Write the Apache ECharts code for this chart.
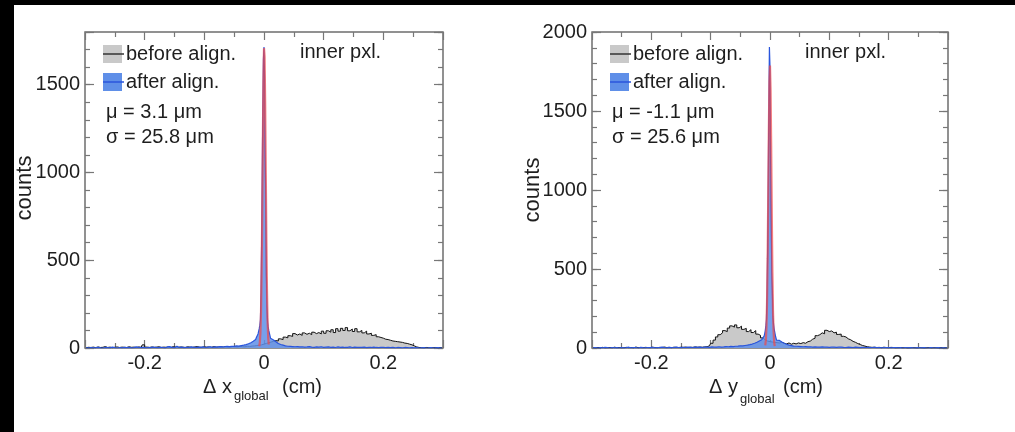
<!DOCTYPE html>
<html><head><meta charset="utf-8">
<script src="https://cdn.jsdelivr.net/npm/echarts@6/dist/echarts.min.js"></script>
<style>html,body{margin:0;padding:0;background:#fff}#c{width:1015px;height:432px}</style>
</head><body><div id="c"></div>
<script>
// ---------- data ----------
const BIN = 0.004;          // coarse bin width (cm)
const FINE = 0.001;         // fine bin width in the core (cm)
const X_MIN = -0.3, X_MAX = 0.3;
const CORE_MIN = -0.012, CORE_MAX = 0.012;
const xTickLabels = [-0.2, 0, 0.2];
const yTickLabels = [0, 500, 1000, 1500, 2000];
const yMax1 = 1800, yMax2 = 2000;

// panel 1 : delta x_global, before alignment (150 bins of 0.004 from -0.3)
const beforeX = [
  2,4,3,5,2,6,3,4,8,3,5,2,
  4,6,3,5,4,3,7,4,5,3,6,4,
  18,5,3,6,4,5,7,3,5,4,6,3,
  8,5,4,6,5,3,7,5,4,6,8,5,
  4,7,5,6,4,8,5,6,7,5,9,6,
  5,8,7,6,9,8,7,10,9,11,12,14,
  16,
  18,22,26,30,34,38,42,40,52,48,
  62,58,70,66,82,74,80,72,86,78,
  84,76,90,82,88,80,96,84,98,90,
  104,88,110,96,112,100,116,98,108,94,
  110,92,100,86,96,80,84,72,76,64,
  60,56,50,48,44,40,38,36,34,32,
  28,26,22,18,12,6,3,
  2,1,3,2,1,2,3,1,2,1
];
// panel 1 : after alignment
const afterXLeft = [   // 72 bins of 0.004 from -0.3 to -0.012
  2,0,3,1,2,4,1,0,3,2,1,5,
  2,0,3,1,4,2,3,1,2,6,3,2,
  4,1,3,2,5,3,2,4,3,1,6,8,
  3,2,10,3,5,2,4,3,6,4,3,5,
  4,6,3,5,7,4,6,5,8,6,7,9,
  8,10,9,12,11,14,16,19,24,30,38,48
];
const afterXCore = [   // 24 bins of 0.001 from -0.012 to 0.012
  60,70,80,95,110,130,160,320,600,980,1350,1640,
  1715,1540,1100,850,420,240,150,120,100,85,70,55
];
const afterXRight = [  // 72 bins of 0.004 from 0.012 to 0.3
  46,36,26,20,16,12,10,9,8,7,8,6,
  7,5,6,8,5,4,6,5,7,4,5,6,
  4,5,3,6,4,5,3,4,6,3,5,4,
  3,4,5,2,4,3,5,3,2,4,3,2,
  3,2,4,1,3,2,1,3,2,1,2,1,
  2,0,1,2,0,1,3,0,1,2,0,1
];
const fitPosX = [-0.008,-0.007,-0.006,-0.005,-0.004,-0.003,-0.002,-0.001,0,0.001,0.002,0.003,0.004,0.005,0.006,0.007,0.008];
const fitX = [10,31,86,207,426,755,1152,1512,1708,1660,1388,998,619,330,151,60,20];

// panel 2 : delta y_global, before alignment
const beforeY = [
  2,1,3,2,4,1,2,3,1,5,2,3,
  1,2,4,2,3,1,6,2,3,2,4,3,
  2,5,3,2,4,3,6,3,4,2,5,4,
  3,5,4,6,3,5,4,7,5,6,5,7,
  8,14,30,50,70,84,96,110,104,126,
  140,132,146,128,138,118,124,104,116,98,
  110,88,80,64,52,44,40,38,36,34,
  32,36,30,26,32,24,30,26,32,28,
  34,30,40,44,56,62,78,84,96,90,
  112,104,108,96,100,86,88,74,70,58,
  52,42,36,28,22,16,12,8,
  6,4,5,3,4,2,5,3,2,4,3,1,2,3,1,2,0,1,2,1,0,2,1,0,1,2,0,1,1,0,2,0,1,1
];
const afterYLeft = [
  1,3,0,2,1,4,2,0,3,1,2,0,
  3,1,2,5,1,3,2,0,4,2,1,3,
  2,4,1,3,2,5,3,1,4,2,3,5,
  3,2,4,3,5,4,3,6,4,5,3,6,
  5,4,7,5,6,8,6,7,9,8,10,9,
  11,12,14,13,16,18,21,25,30,36,44,52
];
const afterYCore = [
  50,60,75,90,110,140,180,350,620,1050,1500,1905,
  1780,1190,820,480,360,200,150,120,100,80,65,50
];
const afterYRight = [
  48,38,30,24,18,15,12,11,10,9,8,9,
  7,8,6,7,5,6,7,5,6,4,5,6,
  4,5,6,4,3,5,4,3,5,4,2,4,
  3,4,2,3,4,2,3,1,2,3,2,1,
  2,3,1,2,0,3,1,2,1,0,2,1,
  1,2,0,1,3,0,1,2,0,1,0,2
];
const fitY = [16,48,127,289,564,947,1363,1685,1788,1630,1275,856,494,244,104,38,12];

// ---------- helpers ----------
function hist(vals, start, w) {
  return vals.map((v, i) => [+(start + (i + 0.5) * w).toFixed(5), v]);
}
function afterHist(l, c, r) {
  return hist(l, X_MIN, BIN).concat(hist(c, CORE_MIN, FINE), hist(r, CORE_MAX, BIN));
}
function fitPts(ys) { return fitPosX.map((x, i) => [x, ys[i]]); }

const FONT = '"Liberation Sans", Arial, Helvetica, sans-serif';
const TXT = '#1e1e1e';
const TICK = '#777';

function xAxes(grid) {
  const base = {
    type: 'value', gridIndex: grid, min: X_MIN, max: X_MAX, interval: 0.1,
    axisLine: { show: false, onZero: false },
    splitLine: { show: false },
    axisTick: { show: true, inside: true, length: 8, lineStyle: { color: TICK, width: 1.2 } },
    minorTick: { show: true, splitNumber: 2, length: 5, lineStyle: { color: TICK, width: 1.2 } },
    minorSplitLine: { show: false }
  };
  return [
    Object.assign({}, base, {
      position: 'bottom',
      axisLabel: {
        margin: 5, fontSize: 20, fontFamily: FONT, color: TXT,
        formatter: v => xTickLabels.some(t => Math.abs(t - v) < 1e-6) ? String(Math.round(v * 10) / 10) : ''
      }
    }),
    Object.assign({}, base, { position: 'top', axisLabel: { show: false } })
  ];
}
function yAxes(grid, max) {
  const common = {
    type: 'value', gridIndex: grid, min: 0, max: max,
    axisLine: { show: false, onZero: false }, splitLine: { show: false }
  };
  return [
    Object.assign({}, common, {
      position: 'left', interval: 500,
      axisTick: { show: true, inside: true, length: 9, lineStyle: { color: TICK, width: 1.2 } },
      axisLabel: {
        margin: 5, fontSize: 20, fontFamily: FONT, color: TXT,
        formatter: v => yTickLabels.includes(v) ? String(v) : ''
      }
    }),
    Object.assign({}, common, {
      position: 'left', interval: 100, axisLabel: { show: false },
      axisTick: { show: true, inside: true, length: 5, lineStyle: { color: TICK, width: 1.2 } }
    }),
    Object.assign({}, common, {
      position: 'right', interval: 500, axisLabel: { show: false },
      axisTick: { show: true, inside: true, length: 9, lineStyle: { color: TICK, width: 1.2 } }
    }),
    Object.assign({}, common, {
      position: 'right', interval: 100, axisLabel: { show: false },
      axisTick: { show: true, inside: true, length: 5, lineStyle: { color: TICK, width: 1.2 } }
    })
  ];
}

function panelSeries(xi, yi, before, after, fit) {
  return [
    { type: 'line', xAxisIndex: xi, yAxisIndex: yi, step: 'middle', symbol: 'none',
      data: hist(before, X_MIN, BIN),
      lineStyle: { color: '#111', width: 1 },
      areaStyle: { color: '#c9c9c9', opacity: 1 }, z: 2 },
    { type: 'line', xAxisIndex: xi, yAxisIndex: yi, step: 'middle', symbol: 'none',
      data: after,
      lineStyle: { color: '#2a55dc', width: 1.2 },
      areaStyle: { color: '#5f8fe8', opacity: 0.85 }, z: 3 },
    { type: 'line', xAxisIndex: xi, yAxisIndex: yi, symbol: 'none',
      data: fit,
      lineStyle: { color: '#f04848', width: 2.2, opacity: 0.7 }, z: 4 }
  ];
}

function txt(x, y, s, size, extra) {
  return Object.assign({ type: 'text', x: x, y: y, z: 100,
    style: { text: s, fontSize: size || 20, fontFamily: FONT, fill: TXT, align: 'left', verticalAlign: 'middle' } }, extra || {});
}
function vtxt(x, y, s) {
  return { type: 'text', x: x, y: y, rotation: Math.PI / 2, z: 100,
    style: { text: s, fontSize: 22, fontFamily: FONT, fill: TXT, align: 'center', verticalAlign: 'middle' } };
}
function legendBox(x, y, fill, stroke) {
  return [
    { type: 'rect', z: 100, shape: { x: x, y: y, width: 19, height: 18 }, style: { fill: fill } },
    { type: 'line', z: 101, shape: { x1: x, y1: y + 9, x2: x + 21, y2: y + 9 }, style: { stroke: stroke, lineWidth: 1.5 } }
  ];
}

const graphics = [
  { type: 'rect', z: 200, shape: { x: 0, y: 0, width: 1015, height: 5 }, style: { fill: '#000' } },
  { type: 'rect', z: 200, shape: { x: 0, y: 0, width: 14, height: 432 }, style: { fill: '#000' } },
  // panel 1 legend / labels
  ...legendBox(103, 45, '#c9c9c9', '#333'),
  ...legendBox(103, 73, '#5f8fe8', '#2a55dc'),
  txt(126, 54, 'before align.'),
  txt(126, 82, 'after align.'),
  txt(300, 52, 'inner pxl.'),
  txt(106, 112, 'μ = 3.1 μm'),
  txt(106, 137, 'σ = 25.8 μm'),
  txt(203, 387, 'Δ x'),
  txt(234, 396, 'global', 13),
  txt(282, 387, '(cm)'),
  vtxt(25, 188, 'counts'),
  // panel 2 legend / labels
  ...legendBox(610, 45, '#c9c9c9', '#333'),
  ...legendBox(610, 73, '#5f8fe8', '#2a55dc'),
  txt(633, 54, 'before align.'),
  txt(633, 82, 'after align.'),
  txt(805, 52, 'inner pxl.'),
  txt(612, 112, 'μ = -1.1 μm'),
  txt(612, 137, 'σ = 25.6 μm'),
  txt(709, 387, 'Δ y'),
  txt(740, 399, 'global', 13),
  txt(783, 387, '(cm)'),
  vtxt(533, 190, 'counts')
];

const gridStyle = { show: true, borderColor: '#6e6e6e', borderWidth: 1.5, backgroundColor: '#fff' };
const option = {
  animation: false,
  backgroundColor: '#fff',
  grid: [
    Object.assign({ left: 85, top: 32, width: 358, height: 316 }, gridStyle),
    Object.assign({ left: 592, top: 32, width: 356, height: 316 }, gridStyle)
  ],
  xAxis: [...xAxes(0), ...xAxes(1)],
  yAxis: [...yAxes(0, yMax1), ...yAxes(1, yMax2)],
  series: [
    ...panelSeries(0, 0, beforeX, afterHist(afterXLeft, afterXCore, afterXRight), fitPts(fitX)),
    ...panelSeries(2, 4, beforeY, afterHist(afterYLeft, afterYCore, afterYRight), fitPts(fitY))
  ],
  graphic: graphics
};
const chart = echarts.init(document.getElementById('c'), null, { renderer: 'canvas' });
chart.setOption(option);
</script>
</body></html>
